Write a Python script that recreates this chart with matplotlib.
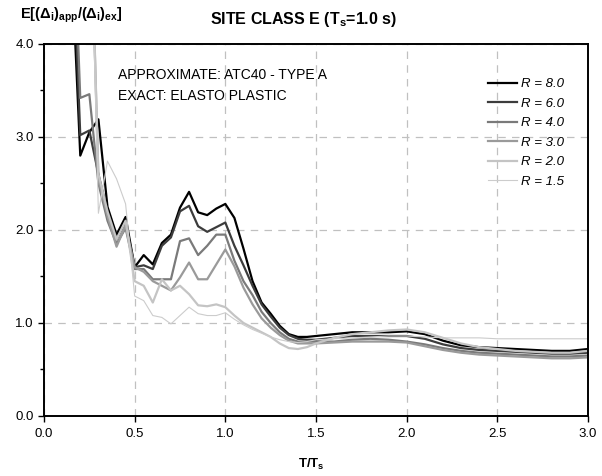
import numpy as np
import matplotlib
matplotlib.use('Agg')
import matplotlib.pyplot as plt

plt.rcParams['font.family'] = ['Liberation Sans', 'DejaVu Sans']
plt.rcParams['mathtext.fontset'] = 'custom'
plt.rcParams['mathtext.rm'] = 'Liberation Sans'
plt.rcParams['mathtext.it'] = 'Liberation Sans:italic'
plt.rcParams['mathtext.bf'] = 'Liberation Sans:bold'

# T/Ts values
t_ratio = [0.15, 0.2, 0.25, 0.3, 0.35, 0.4, 0.45, 0.5, 0.55, 0.6, 0.65, 0.7, 0.75, 0.8,
           0.85, 0.9, 0.95, 1.0, 1.05, 1.1, 1.15, 1.2, 1.25, 1.3, 1.35, 1.4, 1.45, 1.5,
           1.6, 1.7, 1.8, 1.9, 2.0, 2.1, 2.2, 2.3, 2.4, 2.5, 2.6, 2.7, 2.8, 2.9, 3.0]

r80 = [5.0, 2.80, 3.05, 3.19, 2.25, 1.95, 2.14, 1.60, 1.73, 1.63, 1.86, 1.95, 2.24, 2.41,
       2.19, 2.16, 2.23, 2.28, 2.13, 1.80, 1.45, 1.22, 1.10, 0.97, 0.88, 0.85, 0.85, 0.86,
       0.88, 0.90, 0.90, 0.90, 0.91, 0.88, 0.81, 0.76, 0.74, 0.73, 0.72, 0.71, 0.70, 0.70, 0.72]
r60 = [5.5, 3.02, 3.07, 2.60, 2.20, 1.90, 2.08, 1.60, 1.62, 1.58, 1.83, 1.92, 2.20, 2.26,
       2.04, 1.98, 2.03, 2.08, 1.83, 1.62, 1.40, 1.20, 1.07, 0.95, 0.87, 0.83, 0.82, 0.82,
       0.84, 0.86, 0.86, 0.86, 0.86, 0.83, 0.77, 0.73, 0.71, 0.70, 0.69, 0.68, 0.67, 0.67, 0.68]
r40 = [6.0, 3.42, 3.46, 2.50, 2.10, 1.85, 2.02, 1.58, 1.58, 1.47, 1.47, 1.47, 1.88, 1.91,
       1.73, 1.83, 1.95, 1.95, 1.67, 1.45, 1.30, 1.12, 1.00, 0.90, 0.83, 0.80, 0.80, 0.80,
       0.80, 0.82, 0.83, 0.82, 0.80, 0.77, 0.73, 0.70, 0.68, 0.67, 0.66, 0.65, 0.64, 0.64, 0.65]
r30 = [6.0, 6.0, 6.0, 2.55, 2.15, 1.82, 2.05, 1.60, 1.55, 1.45, 1.40, 1.35, 1.49, 1.65,
       1.47, 1.47, 1.63, 1.79, 1.61, 1.38, 1.20, 1.05, 0.95, 0.87, 0.81, 0.78, 0.78, 0.78,
       0.79, 0.80, 0.80, 0.80, 0.79, 0.75, 0.71, 0.68, 0.66, 0.65, 0.64, 0.63, 0.62, 0.62, 0.63]
r20 = [6.0, 6.0, 6.0, 2.60, 2.20, 1.90, 2.10, 1.45, 1.40, 1.22, 1.47, 1.35, 1.40, 1.31,
       1.19, 1.18, 1.20, 1.17, 1.08, 1.00, 0.95, 0.90, 0.85, 0.78, 0.73, 0.72, 0.74, 0.78,
       0.84, 0.88, 0.90, 0.92, 0.93, 0.90, 0.84, 0.78, 0.74, 0.72, 0.70, 0.69, 0.68, 0.68, 0.70]
r15 = [6.0, 6.0, 6.0, 2.18, 2.74, 2.55, 2.28, 1.29, 1.24, 1.08, 1.06, 0.99, 1.08, 1.17,
       1.10, 1.08, 1.08, 1.11, 1.04, 0.98, 0.93, 0.89, 0.85, 0.82, 0.80, 0.79, 0.80, 0.82,
       0.83, 0.84, 0.85, 0.86, 0.86, 0.85, 0.84, 0.84, 0.84, 0.83, 0.83, 0.83, 0.83, 0.83, 0.83]

series = [r80, r60, r40, r30, r20, r15]
labels = ['R = 8.0', 'R = 6.0', 'R = 4.0', 'R = 3.0', 'R = 2.0', 'R = 1.5']
colors = ['#000000', '#3c3c3c', '#7a7a7a', '#9a9a9a', '#c4c4c4', '#cccccc']
widths = [1.6, 1.6, 1.6, 1.6, 1.6, 0.8]

fig = plt.figure(figsize=(6.02, 4.76), dpi=100)
ax = fig.add_axes([0.0731, 0.1261, 0.9036, 0.7815])

for y, lab, c, w in zip(series, labels, colors, widths):
    ax.plot(t_ratio, y, color=c, lw=w, label=lab)

ax.set_xlim(0, 3.0)
ax.set_ylim(0, 4.0)
ax.set_xticks(np.arange(0, 3.01, 0.5))
ax.set_yticks(np.arange(0, 4.01, 1.0))
ax.set_yticks(np.arange(0.5, 4.0, 1.0), minor=True)
ax.xaxis.set_major_formatter(matplotlib.ticker.FormatStrFormatter('%.1f'))
ax.yaxis.set_major_formatter(matplotlib.ticker.FormatStrFormatter('%.1f'))
ax.tick_params(axis='both', which='major', direction='out', length=4, width=1,
               labelsize=9.5)
ax.tick_params(axis='x', which='major', pad=5)
ax.tick_params(axis='y', which='minor', direction='out', length=3, width=1)
ax.grid(True, which='major', color='#c0c0c0', linestyle=(0, (6, 5)), lw=0.9)
for s in ax.spines.values():
    s.set_linewidth(1.4)

ax.text(0.41, 3.67, 'APPROXIMATE: ATC40 - TYPE A', fontsize=10, va='center')
ax.text(0.41, 3.44, 'EXACT: ELASTO PLASTIC', fontsize=10, va='center')

leg = ax.legend(loc='upper left', bbox_to_anchor=(0.795, 0.94), frameon=False,
                handlelength=2.2, handletextpad=0.25, labelspacing=0.55,
                prop={'style': 'italic', 'size': 9.5})

fig.text(0.505, 0.958, r'SITE CLASS E (T$_\mathbf{s}$=1.0 s)', ha='center', va='center',
         fontsize=11.5, fontweight='bold')
fig.text(0.033, 0.968, r'$\mathbf{E[(\Delta_i)_{app}/(\Delta_i)_{ex}]}$', ha='left',
         va='center', fontsize=10.5)
fig.text(0.518, 0.025, r'T/T$_\mathbf{s}$', ha='center', va='center', fontsize=9.5,
         fontweight='bold')

fig.savefig('out.png', dpi=100)
